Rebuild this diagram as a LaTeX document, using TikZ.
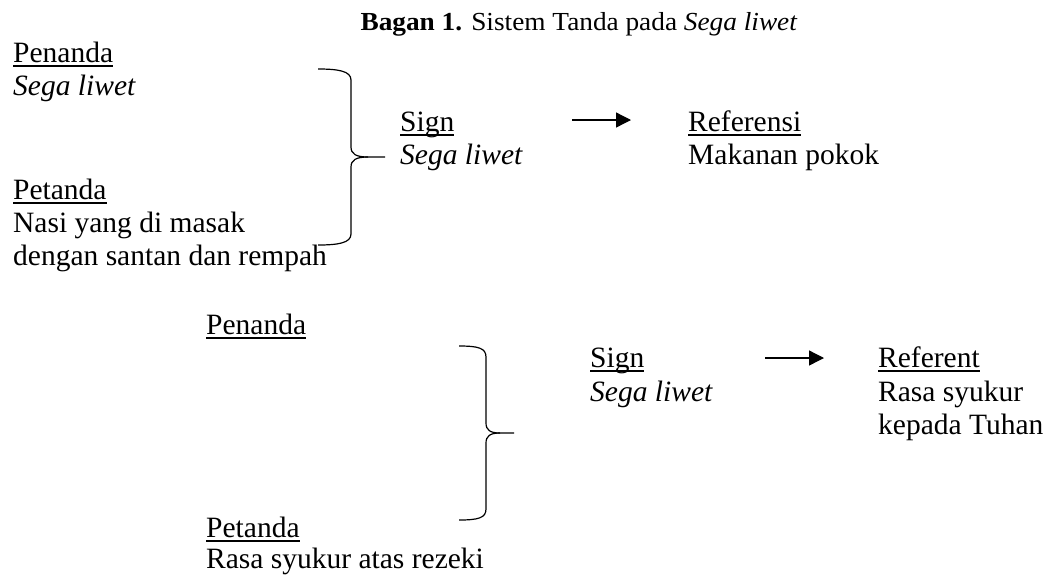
\documentclass[tikz,border=0pt]{standalone}
\usepackage{fontspec}
\setmainfont{Liberation Serif}
\usetikzlibrary{arrows.meta}
\newsavebox{\ulbox}
\newcommand{\ulword}[1]{\sbox{\ulbox}{#1}\rlap{\rule[-4.5pt]{\wd\ulbox}{1.4pt}}\usebox{\ulbox}}
\begin{document}
\begin{tikzpicture}[x=1pt,y=-1pt,
  txt/.style={anchor=base west, inner sep=0pt, font=\fontsize{29.5}{33.5}\selectfont},
  ttl/.style={anchor=base, inner sep=0pt, font=\fontsize{26}{30}\selectfont},
  bracepath/.style={line width=1.2pt},
  arr/.style={line width=1.3pt, -{Triangle[length=15pt,width=15pt]}}]
\useasboundingbox (0,0) rectangle (1051,574);
\fill[white] (0,0) rectangle (1051,574);

% title
\node[ttl] (title) at (579,30) {\scalebox{1.05}[1]{\textbf{Bagan 1.} Sistem Tanda pada \textit{Sega liwet}}};

% ---- group 1 ----
\node[txt] (pen1)  at (13,62)  {\ulword{Penanda}};
\node[txt] (pen1t) at (13,95)  {\textit{Sega liwet}};
\node[txt] (pet1)  at (13,199) {\ulword{Petanda}};
\node[txt] (pet1a) at (13,232) {Nasi yang di masak};
\node[txt] (pet1b) at (13,265) {dengan santan dan rempah};
\node[txt] (sig1)  at (400,131) {\ulword{Sign}};
\node[txt] (sig1t) at (400,164) {\textit{Sega liwet}};
\node[txt] (ref1)  at (688,131) {\ulword{Referensi}};
\node[txt] (ref1t) at (688,164) {Makanan pokok};

\coordinate (b1top) at (318,69);
\coordinate (b1tip) at (385,157);
\coordinate (b1bot) at (318,245);
\draw[bracepath] (b1top) .. controls (338,69) and (351,71) .. (351,80) -- (351,147)
  .. controls (351,154) and (356,157) .. (368,157) -- (b1tip);
\draw[bracepath] (368,157) .. controls (356,157) and (351,160) .. (351,167) -- (351,234)
  .. controls (351,243) and (338,245) .. (b1bot);

\coordinate (a1s) at (572,120);
\coordinate (a1e) at (631,120);
\draw[arr] (a1s) -- (a1e);

% ---- group 2 ----
\node[txt] (pen2)  at (206,334) {\ulword{Penanda}};
\node[txt] (pet2)  at (206,537) {\ulword{Petanda}};
\node[txt] (pet2a) at (206,568) {Rasa syukur atas rezeki};
\node[txt] (sig2)  at (590,367) {\ulword{Sign}};
\node[txt] (sig2t) at (590,401) {\textit{Sega liwet}};
\node[txt] (ref2)  at (878,367) {\ulword{Referent}};
\node[txt] (ref2a) at (878,401) {Rasa syukur};
\node[txt] (ref2b) at (878,434) {kepada Tuhan};

\coordinate (b2top) at (459,346);
\coordinate (b2tip) at (514,433);
\coordinate (b2bot) at (459,520);
\draw[bracepath] (b2top) .. controls (478,346) and (486,348) .. (486,357) -- (486,423)
  .. controls (486,430) and (490,433) .. (500,433) -- (b2tip);
\draw[bracepath] (500,433) .. controls (490,433) and (486,436) .. (486,443) -- (486,509)
  .. controls (486,518) and (478,520) .. (b2bot);

\coordinate (a2s) at (765,358);
\coordinate (a2e) at (824,358);
\draw[arr] (a2s) -- (a2e);
\end{tikzpicture}
\end{document}
